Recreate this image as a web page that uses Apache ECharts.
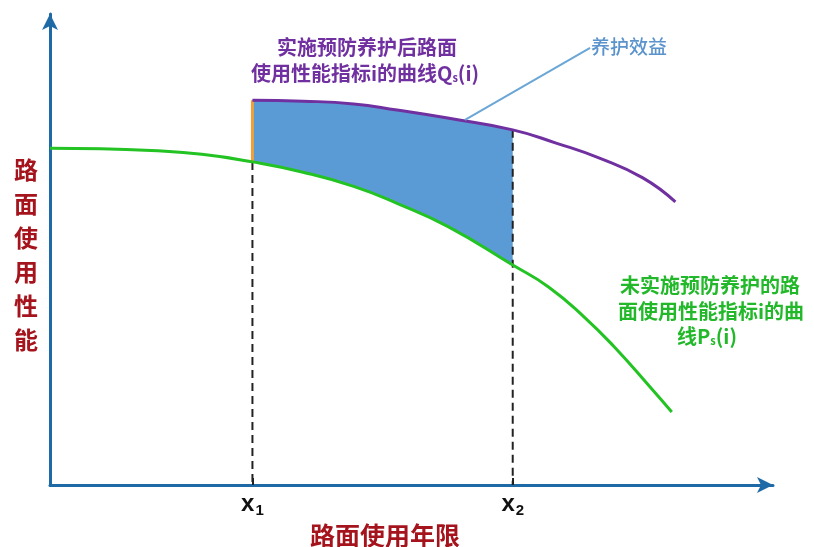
<!DOCTYPE html>
<html><head><meta charset="utf-8">
<script src="https://cdn.jsdelivr.net/npm/echarts@6/dist/echarts.min.js"></script>
<style>html,body{margin:0;padding:0;background:#fff}#c{width:814px;height:547px}</style>
</head><body><div id="c"></div>
<script>
// Data
var x1 = 28, x2 = 64;
var greenX = [0, 7, 14, 21, 28, 35, 42, 48, 55, 64, 69, 74, 78, 83, 86];
var greenY = [71.5, 71.4, 71.0, 70.2, 68.6, 66.4, 63.4, 59.8, 54.9, 46.7, 42.0, 35.5, 29.4, 20.8, 15.5];
var purpleX = [28, 35, 42, 48, 55, 64, 70, 76, 82, 86.5];
var purpleY = [81.7, 81.5, 80.9, 79.6, 77.9, 75.4, 72.6, 69.4, 65.2, 60.1];
var leaderX = [57.4, 74.7];
var leaderY = [77.5, 92.8];
var tickLabels = ['x{s|1}', 'x{s|2}'];

function zip(xs, ys) { return xs.map(function (x, i) { return [x, ys[i]]; }); }
var green = zip(greenX, greenY);
var purple = zip(purpleX, purpleY);
function valAt(xs, ys, x) { return ys[xs.indexOf(x)]; }
var g1 = valAt(greenX, greenY, x1), p1 = valAt(purpleX, purpleY, x1);
var p2 = valAt(purpleX, purpleY, x2);
var areaTop = purple.filter(function (d) { return d[0] >= x1 && d[0] <= x2; });
var areaBot = green.filter(function (d) { return d[0] >= x1 && d[0] <= x2; }).reverse();

var CJK = '"Noto Sans CJK SC", sans-serif';
var chart = echarts.init(document.getElementById('c'));
chart.setOption({
  animation: false,
  grid: { left: 50, right: 41, top: 14, bottom: 62 },
  xAxis: {
    type: 'value', min: 0, max: 100,
    splitLine: { show: false },
    axisLine: { show: true, symbol: ['none', 'arrow'], symbolSize: [12, 16], lineStyle: { color: '#1e6aa6', width: 3 } },
    axisTick: { show: true, customValues: [x1, x2], inside: true, length: 7, lineStyle: { color: '#222', width: 2 } },
    axisLabel: {
      show: true, customValues: [x1, x2], margin: 6,
      formatter: function (v) { return v === x1 ? tickLabels[0] : tickLabels[1]; },
      color: '#111', fontSize: 24, fontWeight: 'bold', fontFamily: 'Liberation Sans, Arial',
      rich: { s: { fontSize: 15, fontWeight: 'bold', color: '#111', fontFamily: 'Liberation Sans, Arial', padding: [12, 0, 0, 1] } }
    }
  },
  yAxis: {
    type: 'value', min: 0, max: 100,
    splitLine: { show: false },
    axisLine: { show: true, symbol: ['none', 'arrow'], symbolSize: [12, 16], lineStyle: { color: '#1e6aa6', width: 3 } },
    axisTick: { show: false }, axisLabel: { show: false }
  },
  series: [
    {
      type: 'custom', z: 1, silent: true,
      data: [[x1, g1]],
      renderItem: function (params, api) {
        var pts = areaTop.concat(areaBot).map(function (d) { return api.coord(d); });
        return { type: 'polygon', shape: { points: pts }, style: { fill: '#5b9bd5' } };
      }
    },
    { type: 'line', z: 2, data: [[x1, g1], [x1, 0]], showSymbol: false, lineStyle: { color: '#222', width: 2, type: [8, 5] } },
    { type: 'line', z: 2, data: [[x2, p2], [x2, 0]], showSymbol: false, lineStyle: { color: '#222', width: 2, type: [8, 5] } },
    { type: 'line', z: 3, data: [[x1, g1], [x1, p1]], showSymbol: false, lineStyle: { color: '#f0a038', width: 3 } },
    { type: 'line', z: 4, data: green, smooth: 0.5, showSymbol: false, lineStyle: { color: '#22c322', width: 3 } },
    { type: 'line', z: 4, data: purple, smooth: 0.5, showSymbol: false, lineStyle: { color: '#7030a0', width: 3 } },
    { type: 'line', z: 4, data: zip(leaderX, leaderY), showSymbol: false, lineStyle: { color: '#6aa6d6', width: 2 } }
  ],
  graphic: [
    { type: 'text', left: 14, top: 153, style: { text: '路\n面\n使\n用\n性\n能', font: 'bold 24px ' + CJK, fill: '#a5131c', lineHeight: 34 } },
    { type: 'text', x: 385, y: 535, style: { text: '路面使用年限', font: 'bold 25px ' + CJK, fill: '#a5131c', align: 'center', verticalAlign: 'middle' } },
    { type: 'text', x: 367, y: 47, style: { text: '实施预防养护后路面', font: 'bold 20px ' + CJK, fill: '#7030a0', align: 'center', verticalAlign: 'middle' } },
    { type: 'text', x: 365, y: 73, style: { text: '使用性能指标i的曲线Q{s|s}(i)', font: 'bold 20px ' + CJK, fill: '#7030a0', align: 'center', verticalAlign: 'middle', rich: { s: { font: 'bold 11px ' + CJK, fill: '#7030a0', padding: [10, 0, 0, 0] } } } },
    { type: 'text', x: 710, y: 285, style: { text: '未实施预防养护的路', font: 'bold 20px ' + CJK, fill: '#22b82a', align: 'center', verticalAlign: 'middle' } },
    { type: 'text', x: 711, y: 311, style: { text: '面使用性能指标i的曲', font: 'bold 20px ' + CJK, fill: '#22b82a', align: 'center', verticalAlign: 'middle' } },
    { type: 'text', x: 707, y: 336, style: { text: '线P{s|s}(i)', font: 'bold 20px ' + CJK, fill: '#22b82a', align: 'center', verticalAlign: 'middle', rich: { s: { font: 'bold 11px ' + CJK, fill: '#22b82a', padding: [10, 0, 0, 0] } } } },
    { type: 'text', x: 591, y: 47, style: { text: '养护效益', font: '500 19px ' + CJK, fill: '#5b93cc', verticalAlign: 'middle' } }
  ]
});
</script></body></html>
